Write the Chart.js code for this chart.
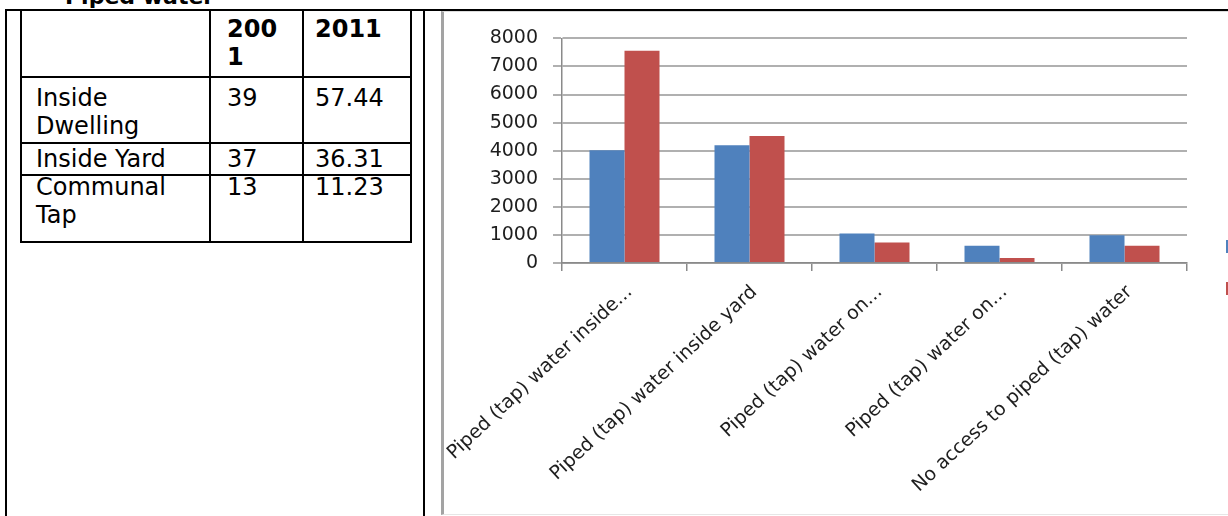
<!DOCTYPE html>
<html>
<head>
<meta charset="utf-8">
<script src="https://cdn.jsdelivr.net/npm/chart.js@4.4.0/dist/chart.umd.min.js"></script>
<style>
  html, body { margin: 0; padding: 0; width: 1228px; height: 516px; overflow: hidden; background: #fff; }
  .ln { position: absolute; background: #000; }
  .t { position: absolute; font-family: "DejaVu Sans", sans-serif; font-size: 24px; line-height: 28px; white-space: nowrap; color: #000; }
  .b { font-weight: bold; }
  #frame { position: absolute; left: 441px; top: 11px; width: 900px; height: 502px;
           border-left: 3px solid #a3a3a3; border-top: 1px solid #dcdcdc; border-bottom: 1px solid #e6e6e6; }
  #box { position: absolute; left: 444px; top: 12px; width: 823px; height: 511px; }
</style>
</head>
<body>
<div class="t b" style="left:65px; top:-17px; font-size:22px;">Piped water</div>

<!-- outer layout table -->
<div class="ln" style="left:5px; top:9px; width:1223px; height:2px;"></div>
<div class="ln" style="left:5px; top:9px; width:2px; height:507px;"></div>
<div class="ln" style="left:423px; top:9px; width:2px; height:507px;"></div>

<!-- percentage table -->
<div class="ln" style="left:20px; top:9px; width:2px; height:234px;"></div>
<div class="ln" style="left:410px; top:9px; width:2px; height:234px;"></div>
<div class="ln" style="left:209px; top:9px; width:2px; height:234px;"></div>
<div class="ln" style="left:302px; top:9px; width:2px; height:234px;"></div>
<div class="ln" style="left:20px; top:76px; width:392px; height:2px;"></div>
<div class="ln" style="left:20px; top:142px; width:392px; height:2px;"></div>
<div class="ln" style="left:20px; top:174px; width:392px; height:2px;"></div>
<div class="ln" style="left:20px; top:241px; width:392px; height:2px;"></div>

<div class="t b" style="left:227px; top:15px;">200<br>1</div>
<div class="t b" style="left:315px; top:15px;">2011</div>

<div class="t" style="left:36px; top:84px;">Inside<br>Dwelling</div>
<div class="t" style="left:227px; top:84px;">39</div>
<div class="t" style="left:315px; top:84px;">57.44</div>

<div class="t" style="left:36px; top:145px;">Inside Yard</div>
<div class="t" style="left:227px; top:145px;">37</div>
<div class="t" style="left:315px; top:145px;">36.31</div>

<div class="t" style="left:36px; top:173px;">Communal<br>Tap</div>
<div class="t" style="left:227px; top:173px;">13</div>
<div class="t" style="left:315px; top:173px;">11.23</div>

<div id="frame"></div>
<div id="box"><canvas id="c" width="823" height="511"></canvas></div>

<script>
// Households by source of piped water
const categories = [
  'Piped (tap) water inside...',
  'Piped (tap) water inside yard',
  'Piped (tap) water on...',
  'Piped (tap) water on...',
  'No access to piped (tap) water'
];
const seriesNames = ['2001', '2011'];
const values2001 = [4020, 4190, 1050, 610, 990];
const values2011 = [7560, 4520, 730, 180, 610];
const yTicks = [0, 1000, 2000, 3000, 4000, 5000, 6000, 7000, 8000];

const colors = ['#4f81bd', '#c0504d'];
const axisFont = { family: 'DejaVu Sans', size: 19 };

new Chart(document.getElementById('c'), {
  type: 'bar',
  data: {
    labels: categories,
    datasets: [
      { label: seriesNames[0], data: values2001, backgroundColor: colors[0] },
      { label: seriesNames[1], data: values2011, backgroundColor: colors[1] }
    ]
  },
  options: {
    responsive: false,
    animation: false,
    devicePixelRatio: 1,
    layout: { padding: 0 },
    datasets: { bar: { categoryPercentage: 0.56, barPercentage: 1.0 } },
    scales: {
      x: {
        grid: { offset: true, drawOnChartArea: false, tickLength: 8, color: '#8a8a8a', lineWidth: 1.5 },
        border: { color: '#8a8a8a', width: 1.5 },
        ticks: { minRotation: 43, maxRotation: 43, autoSkip: false, padding: 10, labelOffset: 5, font: axisFont, color: '#1e1e1e' },
        afterFit(s) { s.height = 260; s.paddingLeft = 0; s.paddingRight = 0; }
      },
      y: {
        min: yTicks[0],
        max: yTicks[yTicks.length - 1],
        afterBuildTicks(s) { s.ticks = yTicks.map(v => ({ value: v })); },
        grid: { color: '#b0b0b0', lineWidth: 2, tickLength: 9 },
        border: { color: '#8a8a8a', width: 1.5 },
        ticks: { padding: 15, font: axisFont, color: '#1e1e1e', callback: v => String(v) },
        afterFit(s) { s.width = 118; }
      },
      gap: {
        position: 'right',
        display: true,
        grid: { display: false },
        border: { display: false },
        ticks: { display: false },
        afterFit(s) { s.width = 10; }
      }
    },
    plugins: {
      legend: {
        position: 'right',
        maxWidth: 70,
        labels: { boxWidth: 13, boxHeight: 13, padding: 29, font: { family: 'DejaVu Sans', size: 13 }, color: '#333' }
      },
      tooltip: { enabled: false }
    }
  }
});
</script>
</body>
</html>
